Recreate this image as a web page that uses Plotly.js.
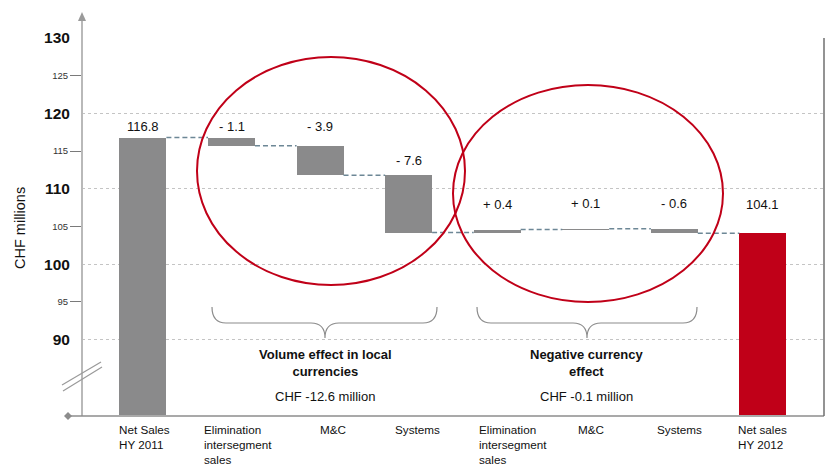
<!DOCTYPE html>
<html>
<head>
<meta charset="utf-8">
<script src="https://cdn.plot.ly/plotly-3.0.1.min.js"></script>
<style>
  html, body { margin: 0; padding: 0; background: #ffffff; }
  #chart { width: 836px; height: 466px; }
</style>
</head>
<body>
<div id="chart"></div>
<script>
// ---- Net sales bridge HY 2011 -> HY 2012 (CHF millions) ----
const categories = [
  "Net Sales<br>HY 2011",
  "Elimination<br>intersegment<br>sales",
  "M&C",
  "Systems",
  "Elimination<br>intersegment<br>sales",
  "M&C",
  "Systems",
  "Net sales<br>HY 2012"
];
const openingTotal = 116.8;
const changes = [-1.1, -3.9, -7.6, 0.4, 0.1, -0.6];
const closingTotal = 104.1;

const groupTitles = ["Volume effect in local<br>currencies", "Negative currency<br>effect"];
const groupSums = ["CHF -12.6 million", "CHF -0.1 million"];

const yMajorTicks = [90, 100, 110, 120, 130];
const yMinorTicks = [95, 105, 115, 125];

// ---- styling constants ----
const FONT = "Liberation Sans, Arial, sans-serif";
const AXIS_FLOOR = 80;          // broken axis: bars rise from here
const BAR_W = 0.53;
const GREY = "#8a8a8b";
const RED = "#c00018";
const CONNECT = "#6d8796";

// plot box in pixels, used to place the decorative shapes
const M = { l: 82, r: 12, t: 38, b: 51 };
const W = 836, H = 466;
const PW = W - M.l - M.r, PH = H - M.t - M.b;
const px = x => (x - M.l) / PW;
const py = y => (H - M.b - y) / PH;

// ---- running levels of the bridge ----
const levels = [openingTotal];
changes.forEach(c => levels.push(Math.round((levels[levels.length - 1] + c) * 10) / 10));

const xs = categories.map((_, i) => i);
const barBase = [], barLen = [], barColor = [], labelText = [], barTop = [];
barBase.push(AXIS_FLOOR); barLen.push(openingTotal - AXIS_FLOOR); barColor.push(GREY);
labelText.push(openingTotal.toFixed(1)); barTop.push(openingTotal);
changes.forEach((c, k) => {
  const before = levels[k], after = levels[k + 1];
  barBase.push(Math.min(before, after));
  barLen.push(Math.abs(c));
  barColor.push(GREY);
  labelText.push((c < 0 ? "- " : "+ ") + Math.abs(c).toFixed(1));
  barTop.push(Math.max(before, after));
});
barBase.push(AXIS_FLOOR); barLen.push(closingTotal - AXIS_FLOOR); barColor.push(RED);
labelText.push(closingTotal.toFixed(1)); barTop.push(closingTotal);

// vertical pixel lift of each value label above its bar
const labelLift = [11, 11, 19, 15, 25, 25, 25, 29];
// horizontal nudge of each category label from its bar's left edge
const catShift = [-2, -6, 21, 8, 3, 14, 4, -3];

const traces = [{
  type: "bar",
  x: xs,
  y: barLen,
  base: barBase,
  width: BAR_W,
  marker: { color: barColor, line: { width: 0 } },
  hoverinfo: "skip",
  showlegend: false
}];

// dashed connectors between neighbouring bars (drawn on the twin axis that carries the minor ticks)
for (let i = 0; i < categories.length - 1; i++) {
  const lvl = levels[Math.min(i, levels.length - 1)];
  traces.push({
    type: "scatter",
    mode: "lines",
    x: [i + BAR_W / 2, i + 1 - BAR_W / 2],
    y: [lvl, lvl],
    yaxis: "y2",
    line: { color: CONNECT, width: 1.4, dash: "5px,3px" },
    hoverinfo: "skip",
    showlegend: false
  });
}

const annotations = [];
// value labels
xs.forEach(i => {
  annotations.push({
    x: i, y: barTop[i], xref: "x", yref: "y",
    text: labelText[i], showarrow: false,
    xanchor: "center", yanchor: "middle", yshift: labelLift[i],
    font: { family: FONT, size: 13, color: "#111" }
  });
});
// category labels under the axis
xs.forEach(i => {
  annotations.push({
    x: i - BAR_W / 2, y: py(421), xref: "x", yref: "paper",
    text: categories[i], showarrow: false,
    xanchor: "left", yanchor: "top", align: "left", xshift: catShift[i],
    font: { family: FONT, size: 11.7, color: "#111" }
  });
});
// group captions
const groupCentre = [325, 586];
groupTitles.forEach((t, g) => {
  annotations.push({
    x: px(groupCentre[g]), y: py(345), xref: "paper", yref: "paper",
    text: "<b>" + t + "</b>", showarrow: false,
    xanchor: "center", yanchor: "top", align: "center",
    font: { family: FONT, size: 13, color: "#111" }
  });
  annotations.push({
    x: px(groupCentre[g]), y: py(396), xref: "paper", yref: "paper",
    text: groupSums[g], showarrow: false,
    xanchor: "center", yanchor: "middle",
    font: { family: FONT, size: 13, color: "#111" }
  });
});
// axis title
annotations.push({
  x: px(20), y: py(228), xref: "paper", yref: "paper",
  text: "CHF millions", textangle: -90, showarrow: false,
  xanchor: "center", yanchor: "middle",
  font: { family: FONT, size: 14.5, color: "#111" }
});

// curly brace under a group, in pixel coordinates
function brace(x1, x2, tip, yTop, yMid, yTip) {
  const r = 14;
  const p = (x, y) => px(x) + "," + py(y);
  return "M" + p(x1, yTop) +
    " Q" + p(x1, yMid) + " " + p(x1 + r, yMid) +
    " L" + p(tip - r, yMid) +
    " Q" + p(tip, yMid) + " " + p(tip, yTip) +
    " Q" + p(tip, yMid) + " " + p(tip + r, yMid) +
    " L" + p(x2 - r, yMid) +
    " Q" + p(x2, yMid) + " " + p(x2, yTop);
}

const shapes = [
  // y axis with arrow head
  { type: "line", xref: "paper", yref: "paper", x0: px(82), x1: px(82), y0: py(416), y1: py(18),
    line: { color: "#b9b9b9", width: 2 } },
  { type: "path", xref: "paper", yref: "paper",
    path: "M" + px(82) + "," + py(12) + " L" + px(78) + "," + py(21) + " L" + px(86) + "," + py(21) + " Z",
    fillcolor: "#9a9a9a", line: { width: 0 } },
  // x axis with diamond end
  { type: "line", xref: "paper", yref: "paper", x0: px(68), x1: px(824), y0: py(416), y1: py(416),
    line: { color: "#8c8c8c", width: 1.5 } },
  { type: "path", xref: "paper", yref: "paper",
    path: "M" + px(64) + "," + py(416) + " L" + px(68) + "," + py(412) + " L" + px(72) + "," + py(416) +
          " L" + px(68) + "," + py(420) + " Z",
    fillcolor: "#8c8c8c", line: { width: 0 } },
  // right frame line
  { type: "line", xref: "paper", yref: "paper", x0: px(824), x1: px(824), y0: py(416), y1: py(38),
    line: { color: "#6f6f6f", width: 1.5 } },
  // axis break marks
  { type: "line", xref: "paper", yref: "paper", x0: px(62), y0: py(385), x1: px(101), y1: py(362),
    line: { color: "#9a9a9a", width: 1.2 } },
  { type: "line", xref: "paper", yref: "paper", x0: px(63), y0: py(391), x1: px(102), y1: py(367),
    line: { color: "#9a9a9a", width: 1.2 } },
  // braces
  { type: "path", xref: "paper", yref: "paper", path: brace(212, 437, 325, 307, 323, 338),
    line: { color: "#8c8c8c", width: 1.2 } },
  { type: "path", xref: "paper", yref: "paper", path: brace(477, 697, 587, 307, 323, 338),
    line: { color: "#8c8c8c", width: 1.2 } },
  // highlight rings
  { type: "circle", xref: "paper", yref: "paper", x0: px(197), x1: px(465), y0: py(285), y1: py(57),
    line: { color: RED, width: 2 }, fillcolor: "rgba(0,0,0,0)" },
  { type: "circle", xref: "paper", yref: "paper", x0: px(453), x1: px(723), y0: py(302), y1: py(85),
    line: { color: RED, width: 2 }, fillcolor: "rgba(0,0,0,0)" }
];

const layout = {
  width: W, height: H,
  margin: { l: M.l, r: M.r, t: M.t, b: M.b, pad: 0 },
  paper_bgcolor: "#ffffff",
  plot_bgcolor: "rgba(0,0,0,0)",
  showlegend: false,
  bargap: 0,
  xaxis: {
    range: [-0.688, 7.69],
    showticklabels: false, showgrid: false, zeroline: false, showline: false, ticks: "",
    fixedrange: true
  },
  yaxis: {
    range: [AXIS_FLOOR, 130],
    tickvals: yMajorTicks,
    ticktext: yMajorTicks.map(String),
    tickfont: { family: FONT, size: 15.5, color: "#111", weight: 700 },
    ticks: "outside", ticklen: 8, tickcolor: "rgba(0,0,0,0)",
    showgrid: true, gridcolor: "#c4c4c4", gridwidth: 1, griddash: "dot",
    zeroline: false, showline: false, fixedrange: true
  },
  yaxis2: {
    overlaying: "y", side: "left", anchor: "x",
    range: [AXIS_FLOOR, 130],
    tickvals: yMinorTicks,
    ticktext: yMinorTicks.map(String),
    tickfont: { family: FONT, size: 9.5, color: "#333" },
    ticks: "outside", ticklen: 11, tickcolor: "#7a7a7a", tickwidth: 1,
    showgrid: false, zeroline: false, showline: false, fixedrange: true
  },
  shapes: shapes,
  annotations: annotations
};

Plotly.newPlot("chart", traces, layout, { displayModeBar: false, staticPlot: true });
</script>
</body>
</html>
